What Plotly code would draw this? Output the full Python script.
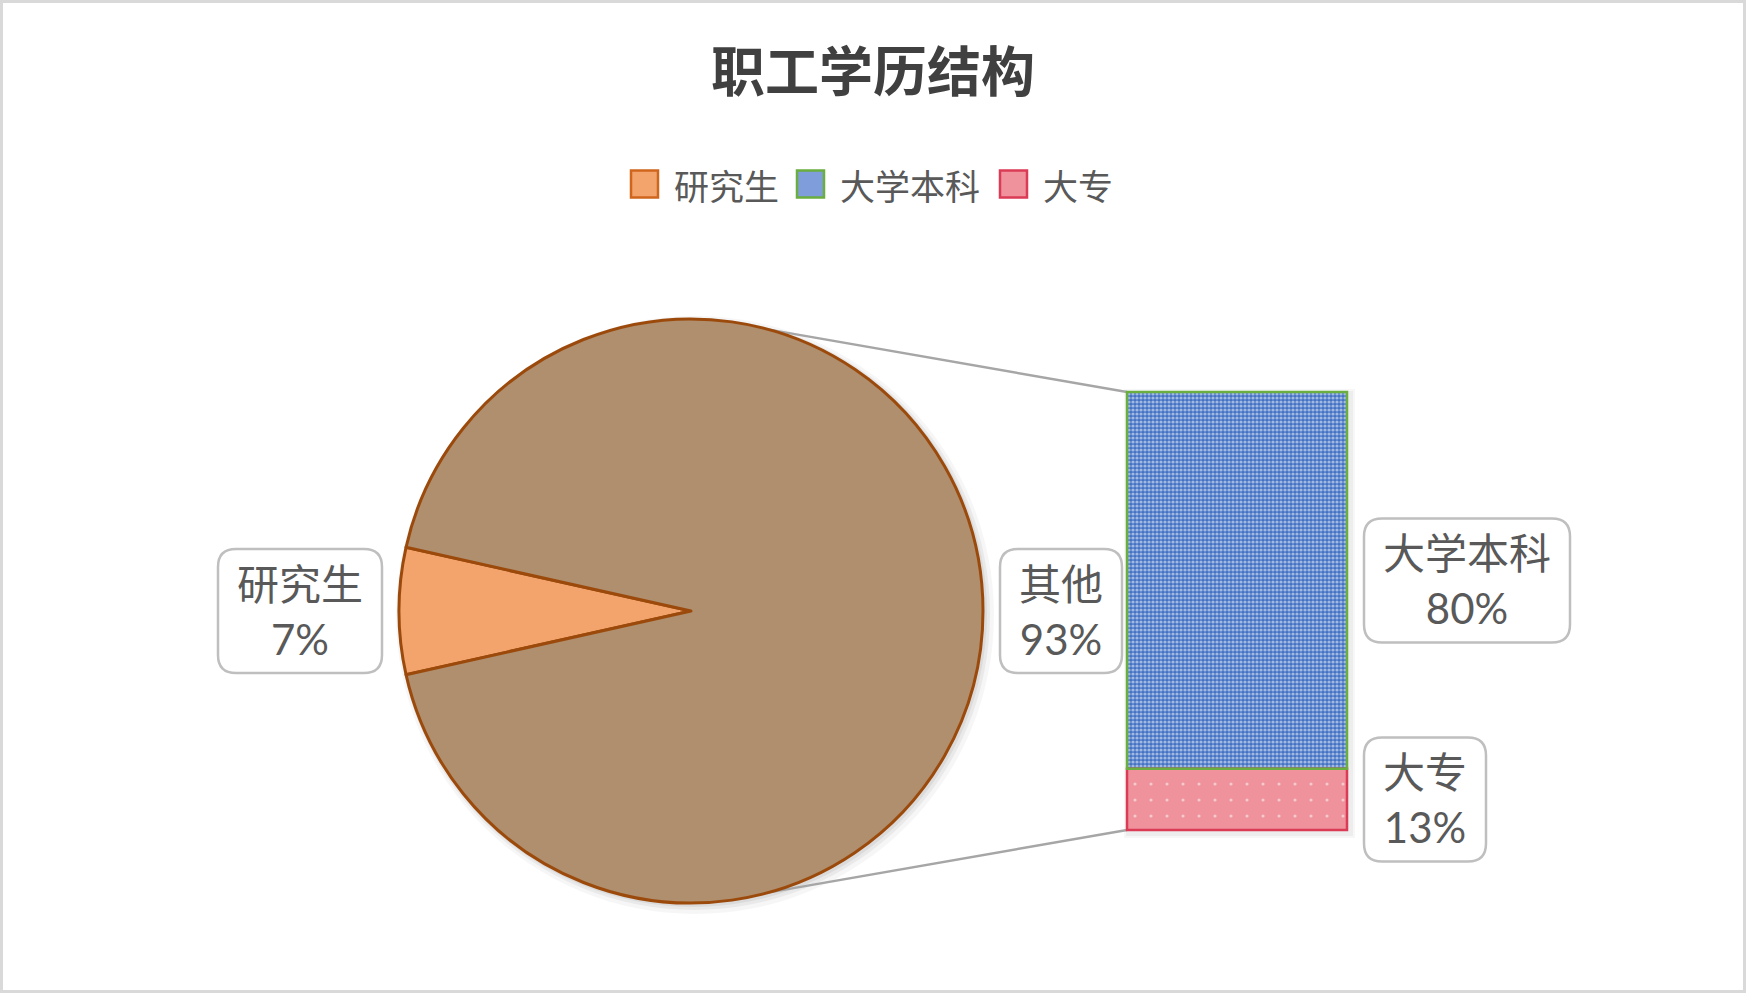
import math
import plotly.graph_objects as go

# ---------------- data ----------------
title_text = "职工学历结构"
pie_labels = ["研究生", "其他"]
pie_values = [7, 93]
bar_labels = ["大专", "大学本科"]          # bottom -> top of the stacked bar
bar_values = [13, 80]
legend_labels = ["研究生", "大学本科", "大专"]

# ---------------- layout constants (pixels) ----------------
W, H = 1746, 994
FONT = "Lato, 'Noto Sans CJK SC', sans-serif"
CJK = "'Noto Sans CJK SC', sans-serif"
TEXT_COLOR = "#595959"
PIE_CX, PIE_CY, PIE_R = 691, 611, 292
BAR_X0, BAR_X1, BAR_TOP, BAR_BOT = 1127, 1347, 392, 830
CONNECT_ANGLE = 15.5  # degrees from vertical where connector lines meet the pie


def px(x):
    return x / W


def py(y):
    return 1 - y / H


def rounded_path(w, h, r):
    x0, x1, y0, y1 = -w / 2, w / 2, -h / 2, h / 2
    return (f"M{x0 + r},{y0} L{x1 - r},{y0} Q{x1},{y0} {x1},{y0 + r} "
            f"L{x1},{y1 - r} Q{x1},{y1} {x1 - r},{y1} L{x0 + r},{y1} "
            f"Q{x0},{y1} {x0},{y1 - r} L{x0},{y0 + r} Q{x0},{y0} {x0 + r},{y0} Z")


pie_colors = {"研究生": "#F3A36C", "其他": "#AF8F6E"}
bar_edge = {"大专": "#DC3B55", "大学本科": "#6AAE3F"}
bar_styles = {
    "大专": dict(color="#EF929C", line=dict(width=0),
               pattern=dict(shape=".", fillmode="overlay", fgcolor="white", size=16, solidity=0.03)),
    "大学本科": dict(color="#4472C4", line=dict(width=0),
                 pattern=dict(shape=".", fillmode="overlay", fgcolor="white", size=4, solidity=0.5)),
}
legend_styles = {
    "研究生": dict(fill="#F3A36C", line="#D0661C"),
    "大学本科": dict(fill="#7F9DDA", line="#6AAE3F"),
    "大专": dict(fill="#EF929C", line="#DC3B55"),
}

fig = go.Figure()

# ---------------- pie ----------------
pie_total = sum(pie_values)
fig.add_trace(go.Pie(
    labels=pie_labels, values=pie_values, sort=False, direction="clockwise",
    rotation=270 - pie_values[0] / pie_total * 360 / 2,
    domain=dict(x=[px(PIE_CX - PIE_R), px(PIE_CX + PIE_R)],
                y=[py(PIE_CY + PIE_R), py(PIE_CY - PIE_R)]),
    marker=dict(colors=[pie_colors[l] for l in pie_labels],
                line=dict(color="#9C4A0C", width=3)),
    textinfo="none", hoverinfo="label+percent", showlegend=False,
))

# ---------------- stacked bar ----------------
for lab, val in zip(bar_labels, bar_values):
    fig.add_trace(go.Bar(x=[0], y=[val], name=lab, width=1, cliponaxis=False,
                         marker=bar_styles[lab], showlegend=False,
                         hoverinfo="name+y"))

bar_total = sum(bar_values)
shapes = []
annotations = []

# shadows behind pie
for dr, off, op in [(7, 4, 0.035), (4, 3, 0.05), (2, 2, 0.06)]:
    shapes.append(dict(type="circle", xref="paper", yref="paper", layer="below",
                       x0=px(PIE_CX + off - PIE_R - dr), x1=px(PIE_CX + off + PIE_R + dr),
                       y0=py(PIE_CY + off + PIE_R + dr), y1=py(PIE_CY + off - PIE_R - dr),
                       fillcolor=f"rgba(0,0,0,{op})", line=dict(width=0)))
# shadow behind bar
for dr, op in [(5, 0.03), (3, 0.04)]:
    shapes.append(dict(type="rect", xref="paper", yref="paper", layer="below",
                       x0=px(BAR_X0 + 2 - dr), x1=px(BAR_X1 + 3 + dr),
                       y0=py(BAR_BOT + 3 + dr), y1=py(BAR_TOP + 2 - dr),
                       fillcolor=f"rgba(0,0,0,{op})", line=dict(width=0)))

# segment outlines (drawn crisp above the bars), from the stacked values
cum = 0
for lab, val in zip(bar_labels, bar_values):
    y_lo = BAR_BOT - (BAR_BOT - BAR_TOP) * cum / bar_total
    cum += val
    y_hi = BAR_BOT - (BAR_BOT - BAR_TOP) * cum / bar_total
    shapes.append(dict(type="rect", xref="paper", yref="paper", layer="above",
                       x0=px(BAR_X0), x1=px(BAR_X1), y0=py(y_lo), y1=py(y_hi),
                       fillcolor="rgba(0,0,0,0)", line=dict(color=bar_edge[lab], width=2.5)))

# connector lines
a = math.radians(CONNECT_ANGLE)
for sgn, by in [(-1, BAR_TOP), (1, BAR_BOT)]:
    ex = PIE_CX + PIE_R * math.sin(a)
    ey = PIE_CY + sgn * PIE_R * math.cos(a)
    shapes.append(dict(type="line", xref="paper", yref="paper", layer="below",
                       x0=px(ex), y0=py(ey), x1=px(BAR_X0), y1=py(by),
                       line=dict(color="#A6A6A6", width=2.5)))

# ---------------- data labels ----------------
LBL_SIZE = 42
BOX_H = 124
CHAR_W = 42
PAD = 19
BOX_R = 18
GAP = 17


def box_w(label):
    return len(label) * CHAR_W + 2 * PAD


def label_box(cx_px, cy_px, w, text):
    shapes.append(dict(type="path", xref="paper", yref="paper", layer="above",
                       xsizemode="pixel", ysizemode="pixel",
                       xanchor=px(cx_px), yanchor=py(cy_px),
                       path=rounded_path(w, BOX_H, BOX_R),
                       fillcolor="white", line=dict(color="#BFBFBF", width=2.5)))
    annotations.append(dict(xref="paper", yref="paper", x=px(cx_px), y=py(cy_px),
                            text=text, showarrow=False,
                            xanchor="center", yanchor="middle",
                            font=dict(family=FONT, size=LBL_SIZE, color=TEXT_COLOR)))


# pie labels: first slice on the left, other on the right
for lab, val, side in zip(pie_labels, pie_values, [-1, 1]):
    w = box_w(lab)
    cx = PIE_CX + side * (PIE_R + GAP + w / 2)
    pct = round(val / pie_total * 100)
    label_box(cx, PIE_CY, w, f"{lab}<br>{pct}%")

# bar labels: to the right of each segment, at the segment's middle
cum = 0
for lab, val in zip(bar_labels, bar_values):
    mid = cum + val / 2
    cum += val
    w = box_w(lab)
    cy = BAR_BOT - (BAR_BOT - BAR_TOP) * mid / bar_total
    cx = BAR_X1 + GAP + w / 2
    label_box(cx, cy, w, f"{lab}<br>{val}%")

# ---------------- custom legend ----------------
LEG_Y = 184
SQ = 27
GAP_ST = 14
GAP_TS = 14
LEG_CHAR = 37
widths = [SQ + GAP_ST + LEG_CHAR * len(l) for l in legend_labels]
total_w = sum(widths) + GAP_TS * (len(widths) - 1)
x = W / 2 - total_w / 2
for lab, wdt in zip(legend_labels, widths):
    st = legend_styles[lab]
    shapes.append(dict(type="rect", xref="paper", yref="paper", layer="above",
                       x0=px(x), x1=px(x + SQ), y0=py(LEG_Y + SQ / 2), y1=py(LEG_Y - SQ / 2),
                       fillcolor=st["fill"], line=dict(color=st["line"], width=2.5)))
    annotations.append(dict(xref="paper", yref="paper", x=px(x + SQ + GAP_ST), y=py(LEG_Y),
                            text=lab, showarrow=False, xanchor="left", yanchor="middle",
                            font=dict(family=CJK, size=35, color=TEXT_COLOR)))
    x += wdt + GAP_TS

# outer border
shapes.append(dict(type="rect", xref="paper", yref="paper", layer="above",
                   x0=px(1.5), x1=px(W - 1.5), y0=py(H - 2.5), y1=py(1.5),
                   line=dict(color="#D9D9D9", width=3), fillcolor="rgba(0,0,0,0)"))

fig.update_layout(
    width=W, height=H,
    margin=dict(l=0, r=0, t=0, b=0),
    paper_bgcolor="white", plot_bgcolor="rgba(0,0,0,0)",
    barmode="stack", bargap=0,
    title=dict(text=title_text, x=0.5, xanchor="center", y=py(73), yanchor="middle",
               font=dict(family=CJK, size=54, color="#404040", weight="bold")),
    xaxis=dict(domain=[px(BAR_X0), px(BAR_X1)], range=[-0.5, 0.5], visible=False, fixedrange=True),
    yaxis=dict(domain=[py(BAR_BOT), py(BAR_TOP)], range=[0, bar_total], visible=False, fixedrange=True),
    shapes=shapes,
    annotations=annotations,
    showlegend=False,
)

fig.write_html("out.html", include_plotlyjs=True, config={"displayModeBar": False},
               post_script="document.body.style.margin='0';document.body.style.overflow='hidden';")
